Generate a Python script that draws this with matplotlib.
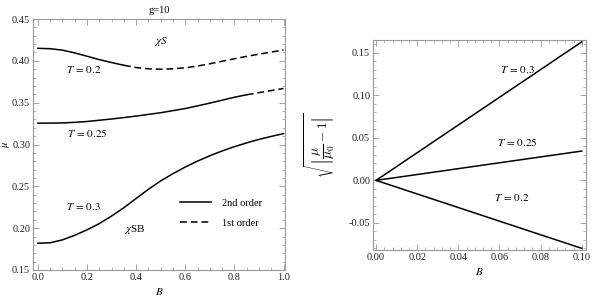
import matplotlib
matplotlib.use("Agg")
import matplotlib.pyplot as plt
import numpy as np
from matplotlib.ticker import MultipleLocator, FormatStrFormatter

plt.rcParams['font.family'] = ['Liberation Serif', 'DejaVu Serif']
plt.rcParams['mathtext.fontset'] = 'stix'

# ---- left panel data ----
B = [0.0, 0.05, 0.1, 0.15, 0.2, 0.25, 0.3, 0.35, 0.4, 0.45, 0.5,
     0.55, 0.6, 0.65, 0.7, 0.75, 0.8, 0.85, 0.9, 0.95, 1.0]
mu_T02 = [0.415, 0.4145, 0.4128, 0.4095, 0.4055, 0.4015, 0.398, 0.3947, 0.392, 0.3905, 0.390,
          0.3905, 0.3917, 0.3938, 0.3965, 0.3995, 0.4025, 0.4054, 0.408, 0.4105, 0.413]
mu_T025 = [0.3255, 0.3256, 0.3258, 0.3265, 0.3275, 0.329, 0.3305, 0.3322, 0.334, 0.336, 0.338,
           0.3405, 0.343, 0.3462, 0.3495, 0.353, 0.3565, 0.3595, 0.362, 0.3645, 0.367]
mu_T03 = [0.182, 0.1825, 0.186, 0.1915, 0.198, 0.2055, 0.2145, 0.2245, 0.2355, 0.2465, 0.2565,
          0.2652, 0.2731, 0.2802, 0.2866, 0.2923, 0.2974, 0.302, 0.3061, 0.3097, 0.313]
split_T02 = 0.35   # solid (2nd order) up to here, dashed beyond
split_T025 = 0.85

# ---- right panel data ----
B_small = [0.0, 0.1]
r_T03 = [0.0, 0.163]
r_T025 = [0.0, 0.0345]
r_T02 = [0.0, -0.080]

fig = plt.figure(figsize=(6.03, 3.02), dpi=100)
ax1 = fig.add_axes([0.0547, 0.106, 0.418, 0.831])
ax2 = fig.add_axes([0.6186, 0.172, 0.353, 0.695])

frame_c = '#999999'
def style(ax):
    for s in ax.spines.values():
        s.set_color(frame_c)
        s.set_linewidth(0.8)
    ax.tick_params(which='both', direction='in', top=True, right=True,
                   color=frame_c, labelsize=7.5, labelcolor='#222222', pad=2)
    ax.tick_params(which='major', length=4, width=0.6)
    ax.tick_params(which='minor', length=2, width=0.5)

Ba = np.array(B)
lw = 1.1
dash = (0, (4.5, 2.5))
for mu, sp in [(mu_T02, split_T02), (mu_T025, split_T025)]:
    mu = np.array(mu)
    m1 = Ba <= sp + 1e-9
    m2 = Ba >= sp - 1e-9
    ax1.plot(Ba[m1], mu[m1], color='black', lw=lw)
    ax1.plot(Ba[m2], mu[m2], color='black', lw=lw, ls=dash)
ax1.plot(B, mu_T03, color='black', lw=lw)

ax1.set_xlim(-0.02, 1.006)
ax1.set_ylim(0.15, 0.45)
ax1.xaxis.set_major_locator(MultipleLocator(0.2))
ax1.xaxis.set_minor_locator(MultipleLocator(0.05))
ax1.yaxis.set_major_locator(MultipleLocator(0.05))
ax1.yaxis.set_minor_locator(MultipleLocator(0.01))
ax1.xaxis.set_major_formatter(FormatStrFormatter('%.1f'))
ax1.yaxis.set_major_formatter(FormatStrFormatter('%.2f'))
style(ax1)
ax1.set_xlabel(r'$B$', fontsize=8, labelpad=3)
ax1.set_ylabel(r'$\mu$', fontsize=7.5)
ax1.yaxis.set_label_coords(-0.084, 0.5)
ax1.set_title('g=10', fontsize=7.5, pad=4)

tk = dict(fontsize=8, ha='center', va='center')
ax1.text(0.5, 0.423, r'$\chi S$', **tk)
ax1.text(0.185, 0.390, r'$T\,=\,0.2$', **tk)
ax1.text(0.2, 0.3135, r'$T\,=\,0.25$', **tk)
ax1.text(0.185, 0.226, r'$T\,=\,0.3$', **tk)
ax1.text(0.395, 0.198, r'$\chi$SB', **tk)

h1, = ax1.plot([], [], color='black', lw=lw, label='2nd order')
h2, = ax1.plot([], [], color='black', lw=lw, ls=dash, label='1st order')
ax1.legend(handles=[h1, h2], loc='lower right', bbox_to_anchor=(0.945, 0.13),
           frameon=False, fontsize=7.5, handlelength=3.0, handletextpad=1.0,
           labelspacing=1.05)

ax2.plot(B_small, r_T03, color='black', lw=lw)
ax2.plot(B_small, r_T025, color='black', lw=lw)
ax2.plot(B_small, r_T02, color='black', lw=lw)
ax2.set_xlim(-0.0015, 0.102)
ax2.set_ylim(-0.082, 0.165)
ax2.xaxis.set_major_locator(MultipleLocator(0.02))
ax2.xaxis.set_minor_locator(MultipleLocator(0.004))
ax2.yaxis.set_major_locator(MultipleLocator(0.05))
ax2.yaxis.set_minor_locator(MultipleLocator(0.01))
ax2.xaxis.set_major_formatter(FormatStrFormatter('%.2f'))
ax2.yaxis.set_major_formatter(FormatStrFormatter('%.2f'))
style(ax2)
ax2.set_xlabel(r'$B$', fontsize=8, labelpad=3)
ax2.set_ylabel(r'$\sqrt{\left|\dfrac{\mu}{\mu_0}-1\right|}$', fontsize=9.5,
               math_fontfamily='cm')
ax2.yaxis.set_label_coords(-0.165, 0.5)

ax2.text(0.0685, 0.130, r'$T\,=\,0.3$', **tk)
ax2.text(0.0685, 0.0457, r'$T\,=\,0.25$', **tk)
ax2.text(0.066, -0.020, r'$T\,=\,0.2$', **tk)

fig.savefig('out.png', dpi=100)
